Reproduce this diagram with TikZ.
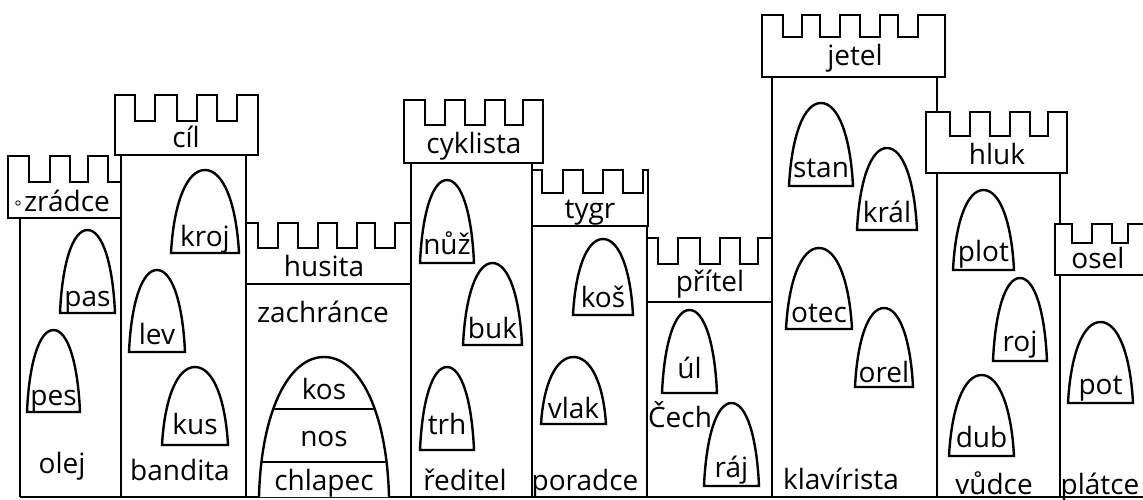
\documentclass[tikz,border=0pt]{standalone}
\usepackage{fontspec}
\setmainfont{Open Sans}
\newcommand\archwin[7]{%
  \draw[winline] (#2,#5) .. controls ({#2+0.04*(#3-#2)},{#5-0.6*(#5-#4)}) and ({#2+0.23*(#3-#2)},#4) .. ({(#2+#3)/2},#4)
     .. controls ({#3-0.23*(#3-#2)},#4) and ({#3-0.04*(#3-#2)},{#5-0.6*(#5-#4)}) .. (#3,#5) -- cycle;
  \node[wtext] (#1) at ({(#2+#3)/2},#6) {#7};
}
\begin{document}
\begin{tikzpicture}[x=0.75pt,y=-0.75pt,
  twr/.style={line width=1.7pt,line join=miter},
  boxfill/.style={twr,fill=white},
  winline/.style={line width=1.8pt,fill=white},
  wtext/.style={anchor=base,inner sep=0pt,font=\fontsize{21}{25}\selectfont},
  lbl/.style={anchor=base,inner sep=0pt,font=\fontsize{21}{25}\selectfont}]
\useasboundingbox[fill=white] (0,0) rectangle (1143,500);

% tower bodies
\draw[twr] (20,218) -- (20,497);
\draw[twr] (121,155) -- (121,497);
\draw[twr] (246,155) -- (246,497);
\draw[twr] (411,163) -- (411,497);
\draw[twr] (532,163) -- (532,497);
\draw[twr] (647,226) -- (647,497);
\draw[twr] (772,77) -- (772,497);
\draw[twr] (937,77) -- (937,497);
\draw[twr] (1060,173) -- (1060,497);
\draw[twr] (20,497) -- (1143,497);

% battlements
\draw[boxfill] (8,218) -- (8,156) -- (29,156) -- (29,182) -- (50,182) -- (50,156) -- (70,156) -- (70,182) -- (88,182) -- (88,156) -- (108,156) -- (108,182) -- (121,182) -- (121,218) -- cycle;
\draw[boxfill] (115,155) -- (115,95) -- (135,95) -- (135,121) -- (155,121) -- (155,95) -- (177,95) -- (177,121) -- (197,121) -- (197,95) -- (217,95) -- (217,121) -- (237,121) -- (237,95) -- (258,95) -- (258,155) -- cycle;
\draw[boxfill] (246,284) -- (246,223) -- (258,223) -- (258,248) -- (278,248) -- (278,223) -- (298,223) -- (298,248) -- (318,248) -- (318,223) -- (337,223) -- (337,248) -- (357,248) -- (357,223) -- (375,223) -- (375,248) -- (395,248) -- (395,223) -- (411,223) -- (411,284) -- cycle;
\draw[boxfill] (404,163) -- (404,100) -- (425,100) -- (425,125) -- (445,125) -- (445,100) -- (465,100) -- (465,125) -- (485,125) -- (485,100) -- (505,100) -- (505,125) -- (523,125) -- (523,100) -- (543,100) -- (543,163) -- cycle;
\draw[boxfill] (532,226) -- (532,170) -- (542,170) -- (542,193) -- (563,193) -- (563,170) -- (583,170) -- (583,193) -- (603,193) -- (603,170) -- (623,170) -- (623,193) -- (643,193) -- (643,170) -- (648,170) -- (648,226) -- cycle;
\draw[boxfill] (647,302) -- (647,238) -- (658,238) -- (658,264) -- (678,264) -- (678,238) -- (700,238) -- (700,264) -- (720,264) -- (720,238) -- (740,238) -- (740,264) -- (758,264) -- (758,238) -- (772,238) -- (772,302) -- cycle;
\draw[boxfill] (762,77) -- (762,15) -- (783,15) -- (783,37) -- (802,37) -- (802,15) -- (820,15) -- (820,37) -- (840,37) -- (840,15) -- (860,15) -- (860,37) -- (880,37) -- (880,15) -- (898,15) -- (898,37) -- (918,37) -- (918,15) -- (945,15) -- (945,77) -- cycle;
\draw[boxfill] (926,173) -- (926,112) -- (950,112) -- (950,136) -- (970,136) -- (970,112) -- (990,112) -- (990,136) -- (1010,136) -- (1010,112) -- (1030,112) -- (1030,136) -- (1048,136) -- (1048,112) -- (1067,112) -- (1067,173) -- cycle;
\draw[boxfill] (1143,275) -- (1055,275) -- (1055,224) -- (1072,224) -- (1072,243) -- (1092,243) -- (1092,224) -- (1112,224) -- (1112,243) -- (1128,243) -- (1128,224) -- (1143,224);

% husita inner line
\draw[twr] (246,284) -- (411,284);

% tower labels
\draw[line width=0.6pt] (18,203) circle[radius=1.7pt];
\node[lbl] (t1) at (67,211) {zrádce};
\node[lbl] (t2) at (186,147) {cíl};
\node[lbl] (t3) at (324,276) {husita};
\node[lbl] (t4) at (474,153) {cyklista};
\node[lbl] (t5) at (590,218) {tygr};
\node[lbl] (t6) at (710,291) {přítel};
\node[lbl] (t7) at (855,65) {jetel};
\node[lbl] (t8) at (997,164) {hluk};
\node[lbl] (t9) at (1098,268) {osel};

% bottom labels
\node[lbl] (b1) at (62,473) {olej};
\node[lbl] (b2) at (180,480) {bandita};
\node[lbl] (b3) at (323,322) {zachránce};
\node[lbl] (b4) at (465,490) {ředitel};
\node[lbl] (b5) at (585,490) {poradce};
\node[lbl] (b6) at (680,427) {Čech};
\node[lbl] (b7) at (841,489) {klavírista};
\node[lbl] (b8) at (994,494) {vůdce};
\node[lbl] (b9) at (1100,494) {plátce};

% big arch
\draw[winline] (259,497) .. controls (261,413) and (288,357) .. (324,357) .. controls (360,357) and (387,413) .. (389,497);
\draw[twr] (273,409) -- (376,409);
\draw[twr] (261,462) -- (387,462);
\node[lbl] (a1) at (324,399) {kos};
\node[lbl] (a2) at (324,446) {nos};
\node[lbl] (a3) at (324,490) {chlapec};

% windows
\archwin{wpas}{60}{115}{230}{313}{306}{pas}
\archwin{wpes}{27}{80}{330}{412}{405}{pes}
\archwin{wkroj}{171}{239}{170}{253}{246}{kroj}
\archwin{wlev}{129}{185}{270}{352}{344}{lev}
\archwin{wkus}{162}{228}{367}{445}{434}{kus}
\archwin{wnuz}{420}{474}{180}{263}{254}{nůž}
\archwin{wbuk}{463}{522}{263}{345}{338}{buk}
\archwin{wtrh}{420}{474}{367}{450}{434}{trh}
\archwin{wkos}{573}{633}{239}{315}{307}{koš}
\archwin{wvlak}{541}{606}{357}{424}{418}{vlak}
\archwin{wul}{662}{717}{310}{393}{378}{úl}
\archwin{wraj}{704}{759}{403}{486}{477}{ráj}
\archwin{wstan}{789}{853}{103}{186}{177}{stan}
\archwin{wkral}{857}{917}{148}{230}{222}{král}
\archwin{wotec}{786}{852}{248}{329}{322}{otec}
\archwin{worel}{855}{913}{308}{387}{382}{orel}
\archwin{wplot}{953}{1014}{190}{270}{261}{plot}
\archwin{wroj}{993}{1047}{278}{361}{351}{roj}
\archwin{wdub}{949}{1014}{375}{456}{447}{dub}
\archwin{wpot}{1068}{1133}{322}{403}{394}{pot}
\end{tikzpicture}
\end{document}
